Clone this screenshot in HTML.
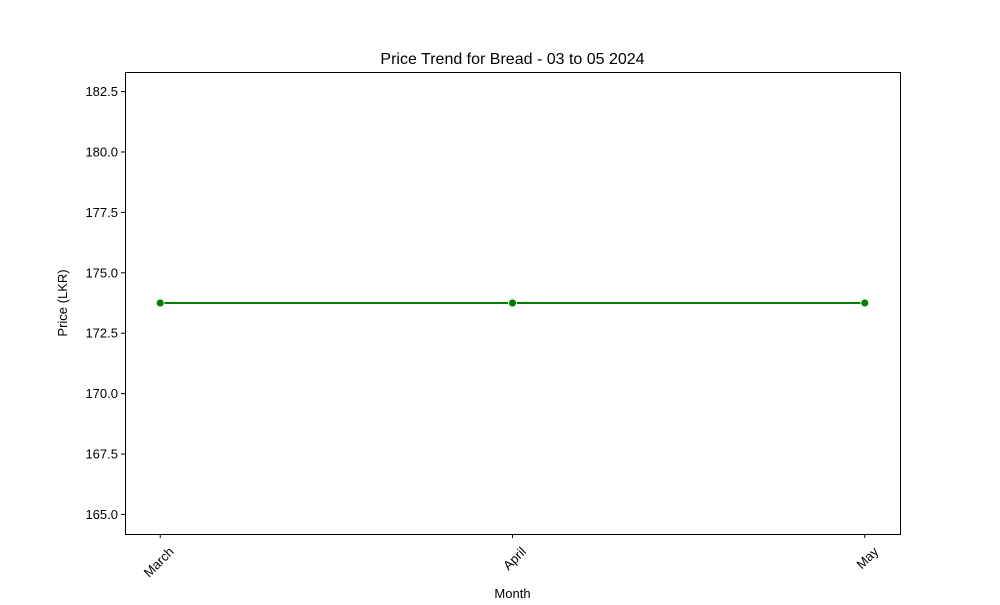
<!DOCTYPE html>
<html><head><meta charset="utf-8"><style>
body{margin:0;background:#fff;font-family:"Liberation Sans","DejaVu Sans",sans-serif}
</style></head><body>
<svg width="1000" height="600" viewBox="0 0 1000 600" xmlns="http://www.w3.org/2000/svg">
<rect width="1000" height="600" fill="#fff"/>
<text x="512.5" y="64" text-anchor="middle" font-size="16">Price Trend for Bread - 03 to 05 2024</text>
<g id="yticks"></g><g id="xticks"></g>
<rect x="125.5" y="72.5" width="775" height="462" fill="none" stroke="#000" stroke-width="1"/>
<g id="series"></g>
<text x="512.5" y="600" text-anchor="middle" font-size="13" dy="-2">Month</text>
<text transform="translate(67,303) rotate(-90)" text-anchor="middle" font-size="13">Price (LKR)</text>
</svg>
<script>
const categories=["March","April","May"];
const prices=[173.75,173.75,173.75];
const yTicks=[165.0,167.5,170.0,172.5,175.0,177.5,180.0,182.5];
const NS="http://www.w3.org/2000/svg";
const L=125,R=900,T=72,B=534;
const yMin=164.19,yMax=183.31;
const xMin=-0.1,xMax=2.1;
function xs(i){return L+(i-xMin)/(xMax-xMin)*(R-L);}
function ys(v){return B-(v-yMin)/(yMax-yMin)*(B-T);}
function mk(t,a,p){const e=document.createElementNS(NS,t);for(const k in a)e.setAttribute(k,a[k]);p.appendChild(e);return e;}
const yg=document.getElementById('yticks');
yTicks.forEach(v=>{const y=ys(v);
const l=mk('line',{x1:L-4,x2:L,y1:y,y2:y,stroke:'#000'},yg);


const t=mk('text',{x:L-7,y:y+4.5,'text-anchor':'end','font-size':13},yg);t.textContent=v.toFixed(1);

});
const xg=document.getElementById('xticks');
categories.forEach((c,i)=>{const x=xs(i);
const l=mk('line',{x1:x,x2:x,y1:B,y2:B+4,stroke:'#000'},xg);


const t=mk('text',{transform:`translate(${x+8},${B+12}) rotate(-45)`,'text-anchor':'end','font-size':13,dy:'0.7em'},xg);t.textContent=c;

});
const sg=document.getElementById('series');
const pl=mk('polyline',{points:prices.map((v,i)=>xs(i)+','+ys(v)).join(' '),fill:'none',stroke:'#008000','stroke-width':2},sg);


prices.forEach((v,i)=>{const c=mk('circle',{cx:xs(i),cy:ys(v),r:4,fill:'#008000',stroke:'#fff','stroke-width':0.8},sg);

});
</script>
</body></html>
